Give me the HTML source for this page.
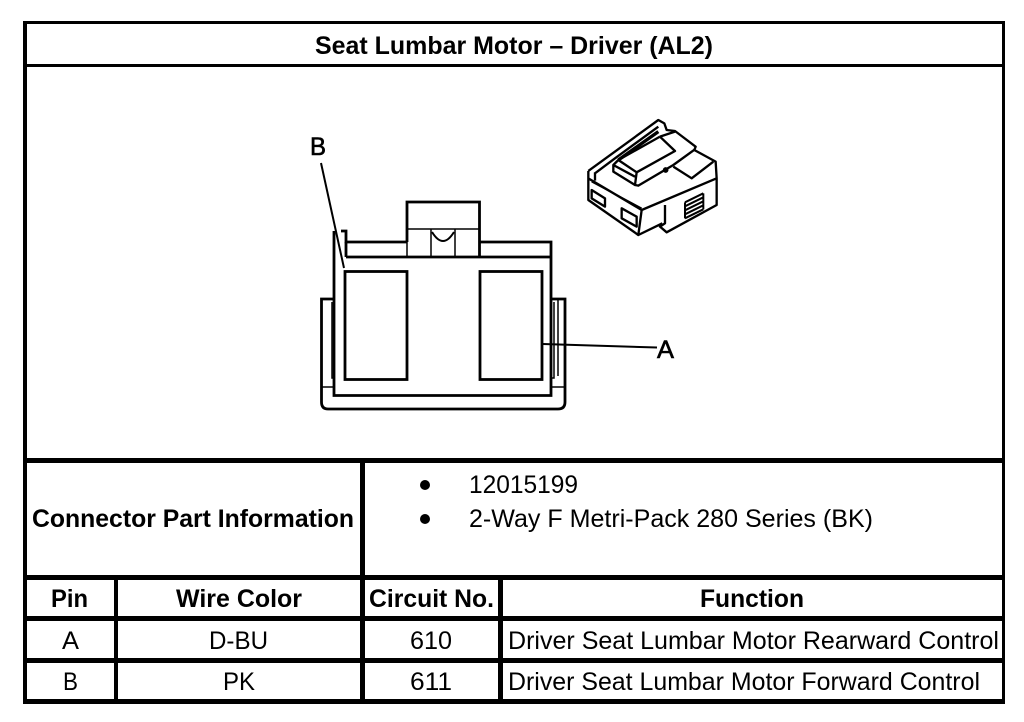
<!DOCTYPE html>
<html><head><meta charset="utf-8"><style>
html,body{margin:0;padding:0;background:#fff}
svg{display:block}
text{font-family:"Liberation Sans",sans-serif;font-size:25px;fill:#000}
.b{font-weight:bold}
.l{stroke:#000;fill:none}
</style></head><body>
<svg width="1024" height="722" viewBox="0 0 1024 722" xmlns="http://www.w3.org/2000/svg">
<rect width="1024" height="722" fill="#fff"/>
<g fill="#000">
<rect x="23" y="21" width="982" height="3"/>
<rect x="23" y="64" width="982" height="3"/>
<rect x="23" y="21" width="4" height="683"/>
<rect x="1002" y="21" width="3" height="683"/>
<rect x="23" y="458" width="982" height="5"/>
<rect x="23" y="575" width="982" height="5"/>
<rect x="23" y="616" width="982" height="5"/>
<rect x="23" y="658" width="982" height="5"/>
<rect x="23" y="699" width="982" height="5"/>
<rect x="114" y="575" width="4" height="129"/>
<rect x="360" y="458" width="5" height="246"/>
<rect x="498" y="575" width="5" height="129"/>
<circle cx="425" cy="485" r="5"/>
<circle cx="425" cy="519" r="5"/>
</g>
<text class="b" x="315" y="54" textLength="398" lengthAdjust="spacingAndGlyphs">Seat Lumbar Motor – Driver (AL2)</text>
<text class="b" x="32" y="527" textLength="322" lengthAdjust="spacingAndGlyphs">Connector Part Information</text>
<text x="469" y="493" textLength="109" lengthAdjust="spacingAndGlyphs">12015199</text>
<text x="469" y="527" textLength="404" lengthAdjust="spacingAndGlyphs">2-Way F Metri-Pack 280 Series (BK)</text>
<text class="b" x="51" y="607" textLength="37" lengthAdjust="spacingAndGlyphs">Pin</text>
<text class="b" x="176" y="607" textLength="126" lengthAdjust="spacingAndGlyphs">Wire Color</text>
<text class="b" x="369" y="607" textLength="125" lengthAdjust="spacingAndGlyphs">Circuit No.</text>
<text class="b" x="700" y="607" textLength="104" lengthAdjust="spacingAndGlyphs">Function</text>
<text x="62" y="649" textLength="17" lengthAdjust="spacingAndGlyphs">A</text>
<text x="209" y="649" textLength="59" lengthAdjust="spacingAndGlyphs">D-BU</text>
<text x="410" y="649" textLength="42" lengthAdjust="spacingAndGlyphs">610</text>
<text x="508" y="649" textLength="491" lengthAdjust="spacingAndGlyphs">Driver Seat Lumbar Motor Rearward Control</text>
<text x="63" y="690" textLength="15" lengthAdjust="spacingAndGlyphs">B</text>
<text x="223" y="690" textLength="32" lengthAdjust="spacingAndGlyphs">PK</text>
<text x="410" y="690" textLength="42" lengthAdjust="spacingAndGlyphs">611</text>
<text x="508" y="690" textLength="472" lengthAdjust="spacingAndGlyphs">Driver Seat Lumbar Motor Forward Control</text>

<!-- front view connector -->
<g class="l" stroke-width="2.800">
<path d="M407 242V202H479.500V257"/>
<path d="M407 242H346V231H341"/>
<path d="M479.500 242H551V395.500H334V231" />
<path d="M346 257H551M346 242V257"/>
<path d="M407 229H479.500" stroke-width="1.500"/>
<path d="M407 229V257M431 229V257M455 229V257" stroke-width="1.500"/>
<path d="M432 232Q443 250 454 232" stroke-width="2"/>
<rect x="345" y="271.500" width="62" height="108"/>
<rect x="480" y="271.500" width="62" height="108"/>
<path d="M334 299H321.500V402Q321.500 409 328 409H558Q565 409 565 402V299H552"/>
<path d="M322 387H334M552 387H565" stroke-width="1.500"/>
<path d="M332 302V378H334M554 302V378H551" stroke-width="1.500"/>
<path d="M558 300V376" stroke-width="1.500"/>
<path d="M321 163L344 268" stroke-width="2"/>
<path d="M543 344L657 347.500" stroke-width="2"/>
</g>
<text class="b" x="310" y="155" style="font-weight:normal;stroke:#000;stroke-width:.6" textLength="16" lengthAdjust="spacingAndGlyphs">B</text>
<text class="b" x="657" y="358" style="font-weight:normal;stroke:#000;stroke-width:.6" textLength="17" lengthAdjust="spacingAndGlyphs">A</text>

<!-- isometric connector -->
<g transform="translate(575 115) scale(.3333)" class="l" stroke-width="7" stroke-linejoin="round">
<path d="M40 168L250 15L268 25L275 45L300 48L362 95L358 105L422 140L425 190V270L275 352L255 335L270 325V270M425 190L200 285L40 190V168M40 190V255L190 360L200 285M190 360L262 325"/>
<path d="M60 172V197M60 175L120 130L250 35"/>
<path d="M130 135L250 50" stroke-width="10"/>
<path d="M50 200L200 280" stroke-width="5"/>
<path d="M115 150L130 135L185 172L180 210L115 170ZM115 150L180 185M185 172L300 108L255 65M130 135L255 65"/>
<path d="M180 210L190 212L295 150L360 103M295 155L350 190L415 140M255 65L300 50"/>
<path d="M50 225L90 250V275L50 250ZM140 280L185 305V335L140 310Z"/>
<path d="M330 262L385 235M330 274L385 247M330 286L385 259M330 298L385 271M330 310L385 283M330 262V310M385 235V283" stroke-width="6"/>
<circle cx="272" cy="165" r="5"/>
</g>
</svg>
</body></html>
